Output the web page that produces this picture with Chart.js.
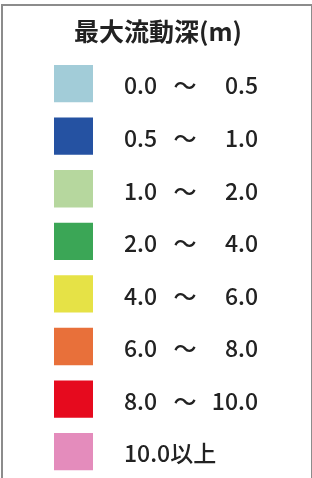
<!DOCTYPE html>
<html><head><meta charset="utf-8">
<script src="https://cdn.jsdelivr.net/npm/chart.js@4/dist/chart.umd.min.js"></script>
<style>
html,body{margin:0;padding:0;background:#fff;}
#wrap{position:relative;width:312px;height:478px;}
#frame{position:absolute;left:1px;top:4px;width:308px;height:480px;border:2px solid #8c8c8c;border-bottom:none;box-sizing:content-box;pointer-events:none;}
canvas{position:absolute;left:0;top:0;}
</style></head>
<body><div id="wrap"><canvas id="c" width="312" height="478"></canvas><div id="frame"></div></div>
<script>
const titleText = '最大流動深(m)';
const lowerValues = ['0.0','0.5','1.0','2.0','4.0','6.0','8.0','10.0以上'];
const upperValues = ['0.5','1.0','2.0','4.0','6.0','8.0','10.0',''];
const classColors = ['#a2ccd8','#2552a2','#b6d79e','#3ba656','#e6e246','#e8703a','#e60a1e','#e48cbc'];
const categories = lowerValues.map((v,i)=> upperValues[i] ? v+' ～ '+upperValues[i] : v);
const swatchSpan = categories.map(()=>[0,1]);

const legendText = {
  id:'legendText',
  afterDatasetsDraw(chart){
    const ctx = chart.ctx, y = chart.scales.y, a = chart.chartArea;
    ctx.save();
    ctx.fillStyle = '#222';
    ctx.textBaseline = 'middle';
    ctx.textAlign = 'center';
    ctx.font = 'bold 25px "Noto Sans CJK JP", sans-serif';
    ctx.fillText(titleText, 158, 31);
    ctx.font = '500 23px "Noto Sans CJK JP", "Noto Sans", sans-serif';
    categories.forEach((c,i)=>{
      const py = y.getPixelForValue(i) + 2;
      ctx.textAlign = 'left';
      ctx.fillText(lowerValues[i], a.right + 31, py);
      if (upperValues[i]) {
        ctx.textAlign = 'center';
        ctx.fillText('～', a.right + 92, py);
        ctx.textAlign = 'right';
        ctx.fillText(upperValues[i], a.right + 165, py);
      }
    });
    ctx.restore();
  }
};

new Chart(document.getElementById('c'), {
  type:'bar',
  data:{ labels: categories, datasets:[{ data: swatchSpan, backgroundColor: classColors, borderWidth:0, barPercentage:0.71, categoryPercentage:1 }]},
  options:{
    indexAxis:'y', responsive:false, animation:false,
    layout:{ padding:{ left:54, right:219, top:57.3, bottom:0 } },
    scales:{
      x:{ display:false, min:0, max:1 },
      y:{ display:false }
    },
    plugins:{ legend:{ display:false }, tooltip:{ enabled:false }, title:{ display:false } }
  },
  plugins:[legendText]
});
</script></body></html>
